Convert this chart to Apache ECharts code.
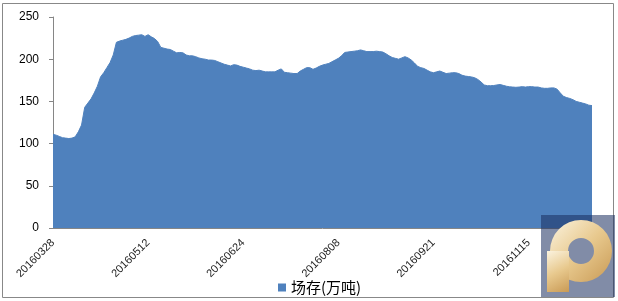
<!DOCTYPE html>
<html>
<head>
<meta charset="utf-8">
<script src="https://cdn.jsdelivr.net/npm/echarts@6/dist/echarts.min.js"></script>
<style>
html,body{margin:0;padding:0;background:#fff;}
#chart{width:618px;height:301px;}
</style>
</head>
<body>
<div id="chart"></div>
<script>
const dates = ('20160328 20160329 20160330 20160331 20160401 20160405 20160407 20160408 20160411 20160412 20160413 20160414 20160415 20160418 20160419 20160420 20160421 20160422 20160425 20160426 20160427 20160428 20160429 20160503 20160504 20160505 20160506 20160509 20160510 20160511 20160512 ' +
 '20160513 20160516 20160517 20160518 20160519 20160520 20160523 20160524 20160525 20160526 20160527 20160530 20160531 20160601 20160602 20160603 20160606 20160607 20160608 20160612 20160613 20160614 20160615 20160616 20160617 20160620 20160621 20160622 20160623 20160624 ' +
 '20160627 20160628 20160629 20160630 20160701 20160704 20160705 20160706 20160707 20160708 20160711 20160712 20160713 20160714 20160718 20160719 20160720 20160721 20160722 20160725 20160726 20160727 20160728 20160729 20160801 20160802 20160803 20160804 20160805 20160808 ' +
 '20160809 20160810 20160811 20160812 20160815 20160816 20160817 20160818 20160819 20160822 20160823 20160824 20160825 20160826 20160829 20160830 20160831 20160901 20160902 20160905 20160906 20160907 20160908 20160909 20160912 20160913 20160914 20160919 20160920 20160921 ' +
 '20160922 20160923 20160926 20160927 20160928 20160929 20160930 20161010 20161011 20161012 20161013 20161017 20161018 20161019 20161020 20161024 20161025 20161026 20161027 20161031 20161101 20161102 20161103 20161107 20161108 20161109 20161110 20161111 20161114 20161115 ' +
 '20161116 20161117 20161118 20161121 20161122 20161123 20161124 20161125 20161128 20161129 20161130 20161201 20161202 20161205 20161206 20161207 20161208 20161209 20161212 20161213').split(' ');

const stock = [
 111,110,108.5,107,106.5,106,106.5,108,114,122,
 143,148,153,160,168,179,184,190,196,205,
 220,221.5,222.5,223.5,225,227,228,228.5,229,227,
 229,226.5,224.5,221,214,213,212,211.5,209.5,207.5,
 208,207.5,205,204,204,203,201.5,200.5,200,199,
 199,198.5,197,195.5,194,193,192,193.5,193,191.5,
 190.5,189.5,188.5,187,186.5,187,186,185,185,185,
 185,187,188.5,184.5,184,183.5,183,183,186,188,
 190,190,188,189.5,191.5,193,194,195,197,199,
 201,204,208,208.5,209,209.5,210,211,210,209,
 209,209,209.5,209,208.5,206.5,204,202,201,200,
 201.5,203,201.5,199,195.5,191.5,190,189,187,185,
 184,185,186,184.5,183,183.5,184,184,183,181,
 180,179.5,179,178,176,173,169.5,168.6,168.6,168.8,
 169.5,170,169,168,167.3,167,166.7,167,167.5,167,
 167.5,167.5,167,167,166,165.5,165.5,166,166,164.5,
 160,156,154.5,153.5,152,150,149,148,147,145.5,
 145
];

const yTicks = {min: 0, max: 250, interval: 50};
const seriesName = '场存(万吨)';

const gold = {type: 'linear', x: 0, y: 0, x2: 1, y2: 1, colorStops: [
  {offset: 0, color: '#fbf3df'}, {offset: 0.5, color: '#e8c98e'}, {offset: 1, color: '#c99a55'}]};

const chart = echarts.init(document.getElementById('chart'), null, {renderer: 'canvas'});
chart.setOption({
  animation: false,
  textStyle: {fontFamily: 'Liberation Sans, Arial, sans-serif'},
  grid: {left: 53, right: 26, top: 17, bottom: 73, containLabel: false},
  graphic: [
    {type: 'rect', shape: {x: 2.5, y: 3.5, width: 611, height: 294}, style: {fill: 'none', stroke: '#888888', lineWidth: 1}, z: -1},
    {type: 'rect', shape: {x: 541, y: 215, width: 74, height: 82}, style: {fill: 'rgba(25,45,95,0.55)'}, z: 100},
    {type: 'ring', shape: {cx: 581, cy: 251, r: 31, r0: 13}, style: {fill: gold}, z: 101},
    {type: 'rect', shape: {x: 547, y: 251, width: 22, height: 41}, style: {fill: gold}, z: 101}
  ],
  legend: {
    top: 275,
    left: 273,
    icon: 'rect',
    itemWidth: 8,
    itemHeight: 8,
    itemGap: 5,
    textStyle: {fontSize: 15, color: '#000', fontFamily: 'Noto Sans CJK SC, sans-serif'},
    data: [seriesName]
  },
  xAxis: {
    type: 'category',
    data: dates,
    boundaryGap: false,
    axisLine: {lineStyle: {color: '#868686', width: 1}},
    axisTick: {show: false},
    axisLabel: {interval: 29, rotate: 45, fontSize: 11, color: '#222', margin: 13},
    splitLine: {show: false}
  },
  yAxis: {
    type: 'value',
    min: yTicks.min, max: yTicks.max, interval: yTicks.interval,
    axisLine: {show: true, lineStyle: {color: '#868686', width: 1}},
    axisTick: {show: true, length: 4, lineStyle: {color: '#868686'}},
    axisLabel: {fontSize: 12, color: '#000', margin: 14},
    splitLine: {show: false}
  },
  series: [{
    name: seriesName,
    type: 'line',
    data: stock,
    symbol: 'none',
    smooth: false,
    lineStyle: {width: 1, color: '#4F81BD'},
    itemStyle: {color: '#4F81BD'},
    areaStyle: {color: '#4F81BD', opacity: 1}
  }]
});
</script>
</body>
</html>
